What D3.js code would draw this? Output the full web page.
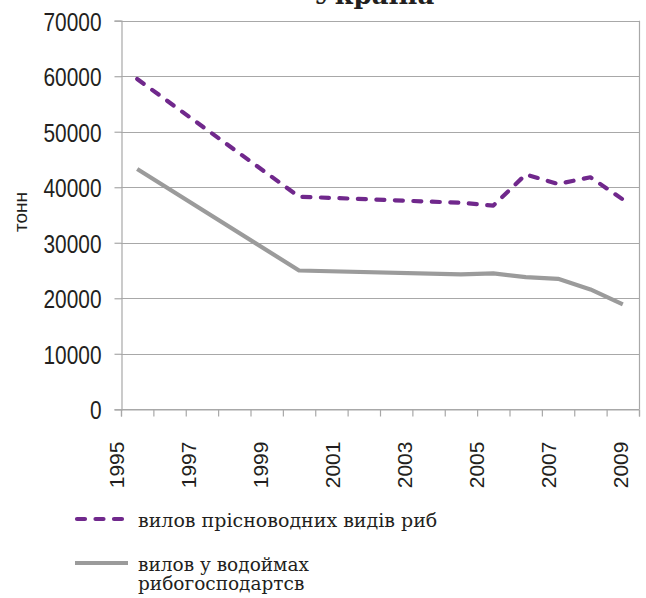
<!DOCTYPE html>
<html><head><meta charset="utf-8">
<script src="https://cdn.jsdelivr.net/npm/d3@7"></script>
<style>body{margin:0;background:#fff}svg{display:block}</style>
</head><body><svg id="c" width="646" height="598"></svg>
<script>
// 16 category slots of the original category axis
const categories = [0,1,2,3,4,5,6,7,8,9,10,11,12,13,14,15];
const freshwater = [59500,null,null,null,null,38300,null,null,null,null,37200,36700,42300,40600,41800,37800];
const reservoirs = [43300,null,null,null,null,25000,null,null,null,null,24300,24500,23800,23500,21600,18900];
const yTicks = [0,10000,20000,30000,40000,50000,60000,70000];
const yearLabels = [1995,1997,1999,2001,2003,2005,2007,2009];
const titleText = "Україна";
const yTitle = "тонн";
const legend1 = ["вилов прісноводних видів риб"];
const legend2 = ["вилов у водоймах","рибогосподартсв"];

const W=646,H=598;
const m={left:121,right:7,top:20.7,bottom:188.7};
const svg=d3.select("#c");
const x0=m.left, x1=W-m.right, yTop=m.top, yBot=H-m.bottom;
const x=d3.scaleBand().domain(categories).range([x0,x1]).padding(0);
const xEdge=d3.scaleLinear().domain([0,categories.length]).range([x0,x1]);
const xYear=d3.scaleLinear().domain([1995,2009]).range([x0-4.3,x0+499.7]);
const y=d3.scaleLinear().domain([0,70000]).range([yBot,yTop]);
const grid="#a8a8a8";

// title (partly cut at top)
svg.append("text").attr("x",374).attr("y",4).attr("text-anchor","middle")
  .attr("font-family","DejaVu Serif, serif").attr("font-weight","bold").attr("font-size",26)
  .attr("fill","#231f20").text(titleText);

// gridlines
svg.append("g").selectAll("line").data(yTicks).join("line")
  .attr("x1",x0).attr("x2",x1).attr("y1",d=>Math.round(y(d))+0.5).attr("y2",d=>Math.round(y(d))+0.5)
  .attr("stroke",grid).attr("stroke-width",1.2);
// right border
svg.append("line").attr("x1",x1+0.5).attr("x2",x1+0.5).attr("y1",y(70000)).attr("y2",y(0))
  .attr("stroke",grid).attr("stroke-width",1.2);

// y axis
const ya=svg.append("g").attr("transform",`translate(${x0+0.5},0)`)
  .call(d3.axisLeft(y).tickValues(yTicks).tickSize(7).tickPadding(13).tickFormat(d3.format("d")));
ya.selectAll("path,line").attr("stroke",grid).attr("stroke-width",1.2);
ya.selectAll("text").attr("font-family","Liberation Sans, Arial, sans-serif")
  .attr("font-size",26.5).attr("fill","#231f20").attr("dy","0.36em")
  .attr("textLength",d=>String(d).length*11.6).attr("lengthAdjust","spacingAndGlyphs");

// x axis ticks at category boundaries
const xa=svg.append("g").attr("transform",`translate(0,${Math.round(yBot)+0.5})`)
  .call(d3.axisBottom(xEdge).tickValues(d3.range(categories.length+1)).tickSize(7).tickFormat(""));
xa.selectAll("path,line").attr("stroke",grid).attr("stroke-width",1.2);

// year labels (rotated)
svg.append("g").selectAll("text").data(yearLabels).join("text")
  .attr("transform",d=>`translate(${xYear(d)},${yBot+79}) rotate(-90)`)
  .attr("dy","0.36em").attr("text-anchor","start")
  .attr("font-family","Liberation Sans, Arial, sans-serif").attr("font-size",21)
  .attr("fill","#231f20").text(d=>d);

// y title
svg.append("text").attr("transform",`translate(20,212) rotate(-90)`).attr("text-anchor","middle")
  .attr("dy","0.36em").attr("font-family","Liberation Sans, Arial, sans-serif").attr("font-size",19)
  .attr("fill","#231f20").text(yTitle);

// lines
const purple="#70288c", gray="#9b9b9b";
function pts(vals){return categories.map((c,i)=>({c,v:vals[i]})).filter(d=>d.v!=null);}
const line=d3.line().x(d=>x(d.c)+x.bandwidth()/2).y(d=>y(d.v));
svg.append("path").datum(pts(reservoirs)).attr("d",line).attr("fill","none")
  .attr("stroke",gray).attr("stroke-width",4.2).attr("stroke-linejoin","round");
svg.append("path").datum(pts(freshwater)).attr("d",line).attr("fill","none")
  .attr("stroke",purple).attr("stroke-width",4.2).attr("stroke-dasharray","8,10.5")
  .attr("stroke-linecap","round").attr("stroke-linejoin","round");

// legend
const lf="DejaVu Serif, serif";
svg.append("line").attr("x1",77).attr("x2",124).attr("y1",519).attr("y2",519)
  .attr("stroke",purple).attr("stroke-width",4.2).attr("stroke-dasharray","8,10.5").attr("stroke-linecap","round");
svg.append("text").attr("x",138).attr("y",527).attr("font-family",lf).attr("font-size",19)
  .attr("fill","#231f20").text(legend1[0]);
svg.append("line").attr("x1",75).attr("x2",128).attr("y1",563).attr("y2",563)
  .attr("stroke",gray).attr("stroke-width",4.2);
svg.append("g").selectAll("text").data(legend2).join("text")
  .attr("x",138).attr("y",(d,i)=>570.5+i*19.5).attr("font-family",lf).attr("font-size",18.5)
  .attr("fill","#231f20").text(d=>d);
</script></body></html>
